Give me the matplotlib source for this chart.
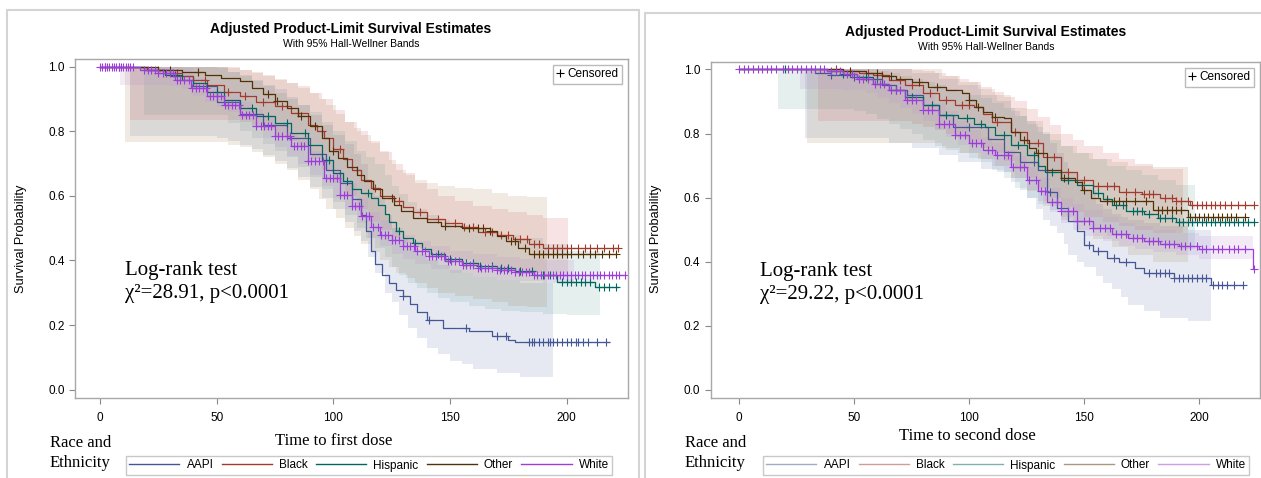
import numpy as np
import matplotlib
matplotlib.use("Agg")
import matplotlib.pyplot as plt
from matplotlib.lines import Line2D
from matplotlib.patches import Rectangle

groups = ["AAPI", "Black", "Hispanic", "Other", "White"]
line_colors = ["#445694", "#A23A2E", "#01665E", "#543005", "#9D3CDB"]
band_colors = ["#6F7EB3", "#D05B5B", "#66A5A0", "#A9865B", "#B689CD"]

# ---------------- first dose ----------------
aapi1_t = [0, 20, 30, 40, 50, 60, 70, 80, 90, 97, 103, 108, 112, 114, 116, 118, 121, 124, 127, 130, 133, 136, 140, 147, 158, 168, 175, 178]
aapi1_s = [1.0, 0.99, 0.97, 0.94, 0.89, 0.855, 0.82, 0.78, 0.73, 0.68, 0.64, 0.59, 0.54, 0.49, 0.43, 0.39, 0.355, 0.33, 0.31, 0.29, 0.265, 0.24, 0.215, 0.19, 0.182, 0.165, 0.155, 0.148]
aapi1_end = 218
aapi1_cens = [2, 8, 130, 141, 157, 170, 174, 184, 185, 186, 188, 190, 192, 193, 194, 196, 198, 200, 202, 204, 205, 207, 209, 213, 217]
aapi1_bt = [13, 45, 50, 55, 60, 65, 70, 75, 80, 85, 90, 95, 100, 105, 109, 112, 115, 118, 122, 125, 128, 132, 136, 140, 145, 150, 155, 160, 170, 180, 194]
aapi1_lo = [0.785, 0.785, 0.778, 0.77, 0.758, 0.745, 0.727, 0.707, 0.685, 0.66, 0.628, 0.595, 0.558, 0.52, 0.49, 0.46, 0.41, 0.36, 0.3, 0.27, 0.23, 0.19, 0.16, 0.13, 0.11, 0.09, 0.078, 0.065, 0.05, 0.04, 0.032]
aapi1_hi = [1.0, 1.0, 0.995, 0.985, 0.975, 0.96, 0.945, 0.93, 0.905, 0.88, 0.85, 0.82, 0.79, 0.76, 0.73, 0.7, 0.65, 0.6, 0.54, 0.5, 0.47, 0.44, 0.42, 0.4, 0.385, 0.37, 0.36, 0.35, 0.34, 0.33, 0.33]

black1_t = [0, 20, 28, 35, 40, 46, 53, 60, 67, 75, 82, 89, 93, 96, 100, 104, 108, 112, 116, 120, 126, 130, 134, 140, 148, 155, 162, 170, 177, 184, 190]
black1_s = [1.0, 0.99, 0.98, 0.97, 0.96, 0.945, 0.923, 0.908, 0.892, 0.877, 0.857, 0.82, 0.8, 0.78, 0.745, 0.715, 0.68, 0.65, 0.625, 0.6, 0.583, 0.565, 0.55, 0.527, 0.515, 0.505, 0.487, 0.478, 0.465, 0.452, 0.438]
black1_end = 222
black1_cens = [25, 33, 45, 55, 62, 70, 78, 85, 95, 103, 110, 118, 128, 137, 145, 152, 156, 160, 165, 168, 172, 175, 180, 183, 186, 188, 192, 194, 196, 198, 200, 202, 205, 208, 210, 213, 216, 220, 222]
black1_bt = [13, 55, 60, 65, 70, 75, 80, 85, 90, 95, 100, 105, 110, 115, 120, 125, 130, 135, 140, 145, 152, 160, 168, 175, 183, 190, 200.5]
black1_lo = [0.836, 0.836, 0.83, 0.82, 0.805, 0.79, 0.77, 0.75, 0.715, 0.68, 0.64, 0.6, 0.56, 0.52, 0.495, 0.47, 0.455, 0.44, 0.425, 0.41, 0.4, 0.39, 0.38, 0.37, 0.36, 0.35, 0.35]
black1_hi = [1.0, 1.0, 0.99, 0.98, 0.97, 0.96, 0.95, 0.94, 0.92, 0.9, 0.865, 0.83, 0.8, 0.77, 0.735, 0.7, 0.67, 0.64, 0.62, 0.6, 0.585, 0.57, 0.56, 0.55, 0.54, 0.53, 0.53]

hisp1_t = [0, 19, 28, 35, 40, 46, 53, 60, 67, 75, 82, 89, 95, 100, 104, 108, 112, 116, 119, 122, 124, 127, 130, 134, 138, 142, 148, 155, 162, 170, 178, 186, 196, 212]
hisp1_s = [1.0, 0.99, 0.975, 0.96, 0.949, 0.923, 0.898, 0.872, 0.846, 0.826, 0.795, 0.759, 0.71, 0.67, 0.645, 0.62, 0.608, 0.595, 0.573, 0.545, 0.52, 0.49, 0.47, 0.455, 0.435, 0.42, 0.405, 0.392, 0.382, 0.377, 0.368, 0.356, 0.333, 0.318]
hisp1_end = 222
hisp1_cens = [32, 50, 65, 72, 80, 88, 98, 106, 115, 128, 135, 145, 150, 157, 160, 163, 168, 172, 175, 180, 185, 190, 193, 198, 200, 202, 204, 206, 208, 210, 214, 216, 218, 221]
hisp1_bt = [19, 50, 55, 60, 65, 70, 75, 80, 85, 90, 95, 100, 105, 110, 114, 118, 122, 125, 128, 132, 136, 140, 145, 150, 158, 165, 172, 180, 190, 200, 214.3]
hisp1_lo = [0.85, 0.85, 0.825, 0.8, 0.78, 0.76, 0.74, 0.72, 0.69, 0.66, 0.62, 0.58, 0.54, 0.5, 0.47, 0.44, 0.41, 0.38, 0.355, 0.33, 0.315, 0.3, 0.285, 0.27, 0.26, 0.25, 0.245, 0.24, 0.235, 0.23, 0.223]
hisp1_hi = [1.0, 1.0, 0.985, 0.97, 0.955, 0.94, 0.92, 0.9, 0.88, 0.86, 0.83, 0.8, 0.77, 0.74, 0.72, 0.7, 0.665, 0.63, 0.605, 0.58, 0.56, 0.54, 0.525, 0.51, 0.5, 0.49, 0.48, 0.47, 0.45, 0.43, 0.41]

other1_t = [0, 25, 35, 45, 52, 60, 65, 70, 75, 80, 85, 90, 95, 98, 102, 106, 110, 113, 117, 121, 126, 129, 134, 140, 146, 155, 167, 170, 174, 179, 184]
other1_s = [1.0, 0.99, 0.985, 0.975, 0.965, 0.955, 0.935, 0.915, 0.895, 0.873, 0.847, 0.815, 0.779, 0.74, 0.718, 0.69, 0.665, 0.645, 0.62, 0.594, 0.573, 0.552, 0.53, 0.518, 0.506, 0.5, 0.49, 0.475, 0.46, 0.44, 0.42]
other1_end = 221
other1_cens = [30, 42, 72, 76, 86, 92, 100, 125, 148, 158, 162, 164, 167, 176, 178, 182, 186, 188, 190, 192, 194, 196, 198, 200, 202, 205, 207, 210, 212, 215, 218, 221]
other1_bt = [10.6, 50, 55, 60, 65, 70, 75, 80, 85, 90, 94, 97, 101, 105, 109, 112, 116, 120, 124, 127, 131, 135, 140, 145, 152, 160, 168, 175, 183, 191.5]
other1_lo = [0.767, 0.767, 0.758, 0.75, 0.735, 0.72, 0.7, 0.68, 0.65, 0.62, 0.59, 0.56, 0.53, 0.5, 0.475, 0.45, 0.425, 0.4, 0.38, 0.36, 0.345, 0.33, 0.315, 0.3, 0.29, 0.28, 0.27, 0.26, 0.255, 0.253]
other1_hi = [1.0, 1.0, 0.995, 0.99, 0.983, 0.975, 0.963, 0.95, 0.935, 0.92, 0.9, 0.88, 0.855, 0.83, 0.81, 0.79, 0.765, 0.74, 0.71, 0.68, 0.665, 0.65, 0.64, 0.63, 0.625, 0.62, 0.61, 0.6, 0.597, 0.594]

white1_t = [0, 17, 25, 32, 39, 46, 53, 60, 67, 75, 82, 89, 96, 103, 108, 112, 116, 120, 125, 130, 135, 141, 148, 155, 162, 170, 178, 186]
white1_s = [1.0, 0.99, 0.98, 0.96, 0.934, 0.908, 0.882, 0.852, 0.815, 0.784, 0.753, 0.707, 0.655, 0.604, 0.57, 0.537, 0.505, 0.48, 0.462, 0.445, 0.43, 0.415, 0.397, 0.387, 0.377, 0.371, 0.365, 0.356]
white1_end = 225
white1_cens = [0, 1, 2, 3, 4, 5, 6, 7, 8, 9, 10, 11, 12, 13, 14, 19, 20.5, 22, 23.5, 25, 27, 28.5, 30, 31.5, 33, 34.5, 36, 38, 39.5,
               41, 42.5, 44, 45.5, 47, 48.5, 50, 52, 53.5, 55, 56.5, 58, 59.5, 61, 62.5, 64, 65.5, 67, 69, 70.5, 72, 73.5, 75,
               76.5, 78, 80, 81.5, 83, 84.5, 86, 87.5, 89, 90.5, 92, 94, 95.5, 97, 98.5, 100, 101.5, 103, 104.5, 106, 108,
               109.5, 111, 112.5, 114, 115.5, 117, 119, 120.5, 122, 123.5, 125, 126.5, 128, 130, 131.5, 133, 134.5, 136, 138,
               139.5, 141, 142.5, 144, 146, 147.5, 149, 150.5, 152, 154, 155.5, 157, 158.5, 160, 162, 163.5, 165, 166.5, 168,
               170, 171.5, 173, 174.5, 176, 178, 179.5, 181, 182.5, 184, 186, 187.5, 189, 190.5, 192, 194, 195.5, 197, 198.5,
               200, 202, 203.5, 205, 206.5, 208, 210, 211.5, 213, 214.5, 216, 218, 219.5, 221, 222.5, 225]
white1_bt = [8.5, 25, 30, 35, 40, 45, 50, 55, 60, 65, 70, 75, 80, 85, 90, 95, 100, 105, 110, 115, 120, 125, 130, 135, 142, 150, 160, 170, 180, 190, 203]
white1_lo = [0.944, 0.944, 0.94, 0.93, 0.91, 0.89, 0.875, 0.86, 0.835, 0.81, 0.78, 0.75, 0.725, 0.7, 0.665, 0.63, 0.595, 0.56, 0.515, 0.47, 0.445, 0.42, 0.405, 0.39, 0.375, 0.36, 0.35, 0.34, 0.335, 0.33, 0.33]
white1_hi = [1.0, 1.0, 0.998, 0.995, 0.965, 0.94, 0.925, 0.915, 0.89, 0.87, 0.845, 0.82, 0.795, 0.77, 0.74, 0.71, 0.675, 0.64, 0.595, 0.55, 0.525, 0.5, 0.48, 0.46, 0.445, 0.43, 0.42, 0.41, 0.405, 0.4, 0.4]

# ---------------- second dose ----------------
aapi2_t = [0, 33, 40, 48, 54, 62, 68, 73, 80, 87, 93, 108, 115, 122, 130, 134, 138, 143, 147, 150, 154, 160, 165, 172, 176, 189, 205]
aapi2_s = [1.0, 0.99, 0.981, 0.975, 0.97, 0.95, 0.935, 0.92, 0.888, 0.857, 0.82, 0.784, 0.743, 0.712, 0.686, 0.619, 0.567, 0.526, 0.495, 0.453, 0.433, 0.412, 0.4, 0.38, 0.365, 0.35, 0.328]
aapi2_end = 219
aapi2_cens = [40, 50, 60, 100, 128, 135, 152, 156, 163, 168, 178, 181, 183, 185, 187, 189, 191, 193, 195, 197, 199, 201, 203, 206, 208, 210, 212, 215, 219]
aapi2_bt = [28.6, 65, 75, 87, 95, 105, 112, 118, 122, 125, 129, 132, 135, 138, 141, 143, 147, 150, 155, 158, 162, 166, 169, 176, 183, 195, 205.2]
aapi2_lo = [0.786, 0.77, 0.755, 0.733, 0.71, 0.69, 0.68, 0.65, 0.625, 0.6, 0.565, 0.53, 0.51, 0.49, 0.455, 0.42, 0.4, 0.385, 0.355, 0.335, 0.315, 0.29, 0.266, 0.245, 0.225, 0.215, 0.21]
aapi2_hi = [1.0, 1.0, 0.99, 0.97, 0.95, 0.92, 0.9, 0.87, 0.855, 0.84, 0.82, 0.8, 0.77, 0.74, 0.71, 0.68, 0.65, 0.62, 0.58, 0.565, 0.55, 0.54, 0.53, 0.52, 0.51, 0.5, 0.49]

black2_t = [0, 45, 52, 58, 65, 72, 80, 87, 94, 102, 106, 110, 118, 125, 132, 140, 147, 154, 165, 175, 183, 190, 196]
black2_s = [1.0, 0.995, 0.99, 0.981, 0.966, 0.95, 0.925, 0.904, 0.888, 0.883, 0.86, 0.836, 0.805, 0.769, 0.728, 0.681, 0.655, 0.635, 0.619, 0.612, 0.598, 0.588, 0.578]
black2_end = 224
black2_cens = [42, 56, 62, 70, 75, 83, 90, 97, 100, 112, 120, 130, 137, 143, 150, 156, 160, 163, 168, 172, 176, 178, 180, 185, 188, 190,
               192, 195, 197, 199, 201, 203, 205, 207, 209, 211, 214, 217, 220, 224]
black2_bt = [34.4, 70, 75, 80, 85, 90, 95, 100, 105, 110, 115, 120, 125, 130, 135, 140, 145, 150, 158, 165, 172, 180, 193]
black2_lo = [0.84, 0.84, 0.83, 0.82, 0.81, 0.8, 0.785, 0.77, 0.755, 0.74, 0.715, 0.69, 0.66, 0.63, 0.6, 0.57, 0.555, 0.54, 0.525, 0.51, 0.5, 0.49, 0.48]
black2_hi = [1.0, 1.0, 0.998, 0.995, 0.99, 0.98, 0.97, 0.96, 0.945, 0.93, 0.915, 0.9, 0.875, 0.85, 0.825, 0.8, 0.78, 0.76, 0.74, 0.72, 0.705, 0.69, 0.68]

hisp2_t = [0, 38, 45, 51, 58, 65, 72, 80, 87, 95, 102, 107, 111, 118, 125, 130, 133, 140, 147, 154, 158, 162, 168, 176, 182, 190]
hisp2_s = [1.0, 0.995, 0.986, 0.976, 0.955, 0.935, 0.914, 0.888, 0.857, 0.847, 0.831, 0.82, 0.795, 0.764, 0.733, 0.7, 0.681, 0.655, 0.64, 0.614, 0.595, 0.578, 0.557, 0.548, 0.536, 0.524]
hisp2_end = 224
hisp2_cens = [20, 45, 55, 68, 75, 84, 90, 99, 105, 115, 121, 128, 136, 143, 149, 156, 160, 164, 167, 171, 173, 175, 178, 183, 185, 188,
              191, 193, 195, 197, 199, 201, 203, 205, 207, 209, 211, 213, 215, 217, 219, 221, 224]
hisp2_bt = [17, 45, 50, 55, 60, 65, 70, 75, 80, 85, 90, 95, 100, 105, 110, 115, 120, 125, 130, 135, 140, 145, 152, 160, 168, 175, 182, 190, 198]
hisp2_lo = [0.878, 0.878, 0.87, 0.86, 0.845, 0.83, 0.815, 0.8, 0.78, 0.76, 0.75, 0.74, 0.725, 0.71, 0.685, 0.66, 0.63, 0.6, 0.58, 0.56, 0.54, 0.52, 0.5, 0.48, 0.47, 0.46, 0.45, 0.44, 0.43]
hisp2_hi = [1.0, 1.0, 1.0, 1.0, 0.995, 0.99, 0.98, 0.97, 0.96, 0.95, 0.94, 0.93, 0.92, 0.91, 0.895, 0.88, 0.855, 0.83, 0.805, 0.78, 0.76, 0.74, 0.72, 0.7, 0.685, 0.67, 0.655, 0.64, 0.63]

other2_t = [0, 45, 55, 62, 68, 75, 82, 90, 97, 100, 103, 106, 110, 115, 118, 122, 126, 129, 134, 140, 146, 149, 153, 157, 180, 195]
other2_s = [1.0, 0.995, 0.99, 0.98, 0.97, 0.96, 0.945, 0.935, 0.925, 0.904, 0.883, 0.868, 0.852, 0.847, 0.805, 0.78, 0.755, 0.738, 0.686, 0.66, 0.65, 0.624, 0.598, 0.588, 0.56, 0.538]
other2_end = 220
other2_cens = [48, 60, 66, 78, 86, 100, 104, 111, 124, 130, 141, 150, 160, 163, 165, 168, 172, 177, 182, 184, 186, 188, 190, 192, 196,
               198, 200, 202, 204, 206, 208, 210, 212, 214, 216, 220]
other2_bt = [29.6, 80, 88, 96, 104, 111, 118, 125, 132, 140, 147, 154, 162, 169, 180, 195]
other2_lo = [0.77, 0.77, 0.755, 0.74, 0.72, 0.7, 0.66, 0.62, 0.575, 0.53, 0.5, 0.47, 0.445, 0.42, 0.4, 0.39]
other2_hi = [1.0, 1.0, 0.98, 0.96, 0.94, 0.92, 0.88, 0.84, 0.8, 0.76, 0.74, 0.72, 0.71, 0.7, 0.695, 0.69]

white2_t = [0, 38, 45, 51, 58, 65, 72, 80, 87, 94, 100, 106, 111, 118, 125, 130, 134, 140, 147, 154, 162, 169, 176, 183, 191, 200, 223.4]
white2_s = [1.0, 0.995, 0.986, 0.97, 0.955, 0.935, 0.904, 0.873, 0.831, 0.795, 0.769, 0.75, 0.733, 0.697, 0.655, 0.62, 0.585, 0.557, 0.526, 0.505, 0.485, 0.474, 0.464, 0.455, 0.448, 0.44, 0.376]
white2_end = 224
white2_cens = [0, 2, 4, 6, 8, 10, 12, 14, 16, 19, 21, 23, 25, 27, 29, 31, 33, 35, 37, 40, 42, 44, 47, 49, 52, 54, 56, 59, 61, 63, 66, 68,
               70, 73, 75, 77, 80, 82, 84, 87, 89, 91, 94, 96, 98, 101, 103, 105, 108, 110, 112, 115, 117, 119, 122, 124, 126, 129,
               131, 133, 136, 138, 140, 143, 145, 147, 150, 152, 154, 157, 159, 161, 164, 166, 168, 171, 173, 175, 178, 180, 182,
               185, 187, 189, 192, 194, 196, 199, 201, 203, 206, 208, 210, 213, 215, 217, 220, 224]
white2_bt = [26.4, 40, 45, 50, 55, 60, 65, 70, 75, 80, 85, 90, 95, 100, 105, 110, 115, 120, 125, 130, 135, 140, 145, 150, 158, 165, 172, 180, 190, 200, 223.4]
white2_lo = [0.94, 0.94, 0.937, 0.935, 0.925, 0.91, 0.895, 0.88, 0.86, 0.84, 0.815, 0.79, 0.765, 0.74, 0.72, 0.7, 0.68, 0.66, 0.625, 0.59, 0.555, 0.52, 0.5, 0.48, 0.465, 0.45, 0.44, 0.43, 0.42, 0.41, 0.405]
white2_hi = [1.0, 1.0, 1.0, 1.0, 0.99, 0.98, 0.97, 0.96, 0.94, 0.92, 0.895, 0.87, 0.84, 0.81, 0.79, 0.77, 0.75, 0.73, 0.695, 0.66, 0.63, 0.6, 0.58, 0.56, 0.54, 0.52, 0.51, 0.5, 0.49, 0.48, 0.475]

panel1 = [
    (aapi1_t, aapi1_s, aapi1_end, aapi1_cens, aapi1_bt, aapi1_lo, aapi1_hi),
    (black1_t, black1_s, black1_end, black1_cens, black1_bt, black1_lo, black1_hi),
    (hisp1_t, hisp1_s, hisp1_end, hisp1_cens, hisp1_bt, hisp1_lo, hisp1_hi),
    (other1_t, other1_s, other1_end, other1_cens, other1_bt, other1_lo, other1_hi),
    (white1_t, white1_s, white1_end, white1_cens, white1_bt, white1_lo, white1_hi),
]
panel2 = [
    (aapi2_t, aapi2_s, aapi2_end, aapi2_cens, aapi2_bt, aapi2_lo, aapi2_hi),
    (black2_t, black2_s, black2_end, black2_cens, black2_bt, black2_lo, black2_hi),
    (hisp2_t, hisp2_s, hisp2_end, hisp2_cens, hisp2_bt, hisp2_lo, hisp2_hi),
    (other2_t, other2_s, other2_end, other2_cens, other2_bt, other2_lo, other2_hi),
    (white2_t, white2_s, white2_end, white2_cens, white2_bt, white2_lo, white2_hi),
]

SANS = "Liberation Sans"
SERIF = "Liberation Serif"
W, H = 1261, 478

fig = plt.figure(figsize=(W / 100, H / 100), dpi=100)


def fx(px):
    return px / W


def fy(py):
    return 1 - py / H


def draw_panel(rect, data, xlim, stat, border, title_xy, label_x, legend_rect, leg_alpha):
    # panel frame
    fig.add_artist(Rectangle((fx(border[0]), fy(border[3])), fx(border[2] - border[0]), (border[3] - border[1]) / H,
                             transform=fig.transFigure, fill=False, ec="#D4D4D4", lw=1.5))
    ax = fig.add_axes(rect)
    for (t, s, end, cens, bt, lo, hi), lc, bc in zip(data, line_colors, band_colors):
        ax.fill_between(bt, lo, hi, step="post", color=bc, alpha=0.17, lw=0)
    for (t, s, end, cens, bt, lo, hi), lc, bc in zip(data, line_colors, band_colors):
        tt = np.append(t, end)
        ss = np.append(s, s[-1])
        ax.plot(tt, ss, drawstyle="steps-post", color=lc, lw=0.9)
        idx = np.searchsorted(t, cens, side="right") - 1
        cy = np.asarray(s)[idx]
        ax.plot(cens, cy, ls="none", marker="+", ms=6, mew=0.8, color=lc)

    ax.set_xlim(*xlim)
    ax.set_ylim(-0.026, 1.024)
    ax.set_xticks([0, 50, 100, 150, 200])
    ax.set_yticks([0, 0.2, 0.4, 0.6, 0.8, 1.0])
    ax.set_yticklabels(["0.0", "0.2", "0.4", "0.6", "0.8", "1.0"])
    for sp in ax.spines.values():
        sp.set_color("#A8A8A8")
        sp.set_linewidth(1.0)
    ax.tick_params(colors="#888888", labelcolor="black", length=4, width=0.8, labelsize=8.5)
    for lab in ax.get_xticklabels() + ax.get_yticklabels():
        lab.set_fontfamily(SANS)
    ax.tick_params(axis="x", pad=6)
    ax.set_ylabel("Survival Probability", fontfamily=SANS, fontsize=9.2)
    ax.yaxis.set_label_coords(label_x, 0.5, transform=fig.transFigure)

    cen = ax.legend([Line2D([], [], ls="none", marker="+", color="black", ms=6, mew=0.8)], ["Censored"],
                    loc="upper right", prop={"family": SANS, "size": 8.5}, handlelength=0.6, handletextpad=0.3,
                    borderpad=0.3, borderaxespad=0.5, fancybox=False, edgecolor="#BBBBBB", framealpha=1)
    cen.get_frame().set_linewidth(1.0)

    ax.text(0.09, 0.405, "Log-rank test\n" + stat, transform=ax.transAxes, fontfamily=SERIF, fontsize=15,
            linespacing=1.3, va="top", ha="left")

    fig.text(fx(title_xy[0]), fy(title_xy[1]), "Adjusted Product-Limit Survival Estimates", ha="center", va="center",
             fontfamily=SANS, fontweight="bold", fontsize=10)
    fig.text(fx(title_xy[0]), fy(title_xy[1] + 15), "With 95% Hall-Wellner Bands", ha="center", va="center",
             fontfamily=SANS, fontsize=7.5)

    # bottom legend
    handles = [Line2D([], [], color=c, lw=1.0, alpha=leg_alpha) for c in line_colors]
    lax = fig.add_axes(legend_rect)
    lax.axis("off")
    leg = lax.legend(handles, groups, loc="center", ncol=5, prop={"family": SANS, "size": 8.5}, handlelength=4.25,
                     handletextpad=0.6, columnspacing=0.7, fancybox=False, edgecolor="#C8C8C8", framealpha=1,
                     borderpad=0.3, borderaxespad=0)
    leg.get_frame().set_linewidth(1.0)
    return ax


ax1 = draw_panel([fx(75), fy(398), fx(628 - 75), (398 - 59) / H], panel1, (-10.7, 226.3),
                 "\u03c7\u00b2=28.91, p<0.0001", (7, 10, 639, 490), (351, 29), fx(27),
                 [fx(128), fy(475), fx(610 - 128), 19 / H], 1.0)
ax2 = draw_panel([fx(710.7), fy(398.3), fx(1260 - 710.7), (398.3 - 61.7) / H], panel2, (-12.4, 226.4),
                 "\u03c7\u00b2=29.22, p<0.0001", (645, 12.7, 1275, 490), (986, 32), fx(662),
                 [fx(762), fy(475), fx(1250 - 762), 19 / H], 0.5)

fig.text(fx(334), fy(441), "Time to first dose", ha="center", va="center", fontfamily=SERIF, fontsize=12,
         bbox=dict(facecolor="white", edgecolor="none", pad=1), zorder=10)
fig.text(fx(967), fy(436), "Time to second dose", ha="center", va="center", fontfamily=SERIF, fontsize=12,
         bbox=dict(facecolor="white", edgecolor="none", pad=1), zorder=10)
for x0 in (50, 685):
    fig.text(fx(x0), fy(443), "Race and", ha="left", va="center", fontfamily=SERIF, fontsize=12)
    fig.text(fx(x0), fy(463), "Ethnicity", ha="left", va="center", fontfamily=SERIF, fontsize=12)

fig.savefig("out.png", dpi=100)
